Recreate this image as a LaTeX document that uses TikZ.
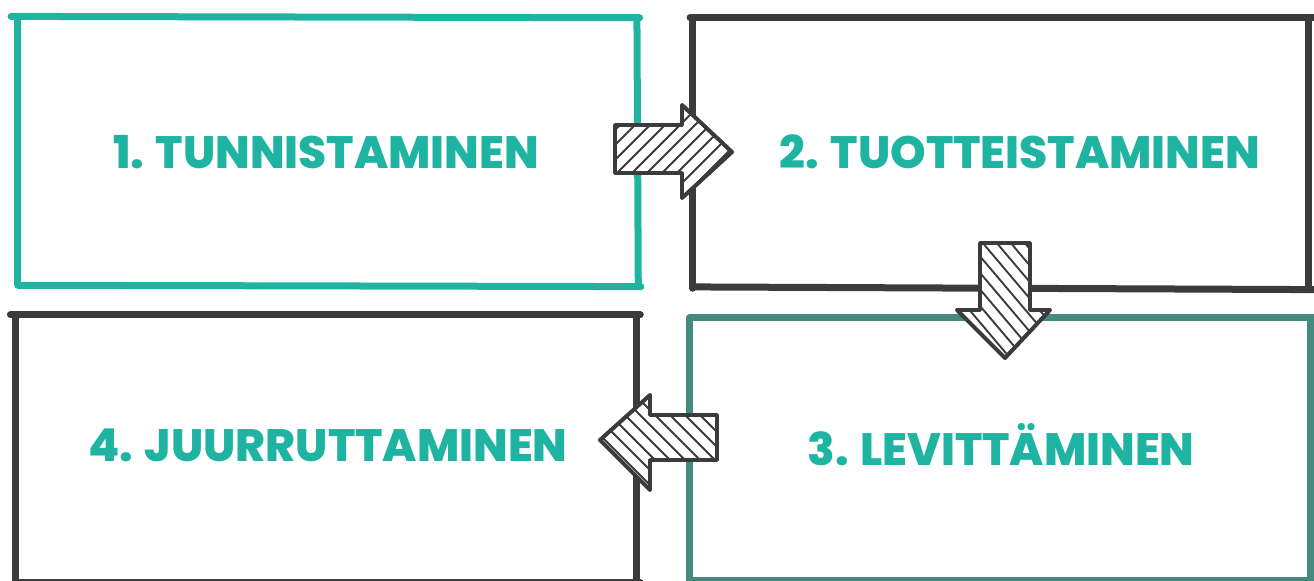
\documentclass[tikz,border=0pt]{standalone}
\usepackage{fontspec}
\IfFontExistsTF{Poppins ExtraBold}{\setmainfont{Poppins}[BoldFont={Poppins ExtraBold}]}{\setmainfont{Poppins}}
\definecolor{tealA}{HTML}{20B3A0}
\definecolor{tealB}{HTML}{448A7F}
\definecolor{darkline}{HTML}{3B3B3B}
\definecolor{txt}{HTML}{1FB4A1}
\begin{document}
\begin{tikzpicture}[x=0.75pt,y=-0.75pt,
  boxshape/.style={rectangle,draw=none,inner sep=0pt},
  side/.style={line width=5.25pt,line cap=round},
  steptext/.style={text=txt,font=\bfseries\fontsize{34}{34}\selectfont,inner sep=0pt},
  blockarrow/.style={fill=white,draw=darkline,line width=2.8pt,line join=round},
  hatch/.style={draw=darkline,line width=1.4pt}]
\useasboundingbox (0,0) rectangle (1314,581);

% boxes
\node[boxshape,minimum width=465pt,minimum height=200.25pt] (b1) at (328,151.5) {};
\node[boxshape,minimum width=461.25pt,minimum height=202.5pt] (b2) at (1000.5,153) {};
\node[boxshape,minimum width=465pt,minimum height=196.5pt] (b3) at (1000,449) {};
\node[boxshape,minimum width=465pt,minimum height=198.75pt] (b4) at (326,447.5) {};

% box 1 (teal)
\draw[side,tealA] ([xshift=-5pt,yshift=1pt]b1.north west) -- ([xshift=1pt]b1.north east);
\draw[side,tealA] (b1.north west) -- ([yshift=1pt]b1.south west);
\draw[side,tealA] ([xshift=-1pt]b1.north east) -- ([yshift=2pt]b1.south east);
\draw[side,tealA] (b1.south west) -- ([xshift=2pt,yshift=-1pt]b1.south east);

% box 2 (dark)
\draw[side,darkline] ([xshift=-2pt]b2.north west) -- ([xshift=4pt]b2.north east);
\draw[side,darkline] (b2.north west) -- (b2.south west);
\draw[side,darkline] (b2.north east) -- ([yshift=-1pt]b2.south east);
\draw[side,darkline] ([xshift=2pt,yshift=1pt]b2.south west) -- ([xshift=4pt,yshift=-1pt]b2.south east);

% box 3 (dark teal)
\draw[side,tealB] (b3.north west) -- ([xshift=3pt]b3.north east);
\draw[side,tealB] (b3.north west) -- ([yshift=-1pt]b3.south west);
\draw[side,tealB] (b3.north east) -- ([yshift=-3pt]b3.south east);
\draw[side,tealB] (b3.south west) -- ([xshift=3pt]b3.south east);

% box 4 (dark)
\draw[side,darkline] ([xshift=-4pt]b4.north west) -- ([xshift=3pt]b4.north east);
\draw[side,darkline] (b4.north west) -- ([yshift=-3pt]b4.south west);
\draw[side,darkline] (b4.north east) -- ([yshift=-2pt]b4.south east);
\draw[side,darkline] ([yshift=-2pt]b4.south west) -- ([xshift=3pt,yshift=-2pt]b4.south east);

% texts
\node[steptext] (t1) at (326,152) {1. TUNNISTAMINEN};
\node[steptext] (t2) at (1020,152) {2. TUOTTEISTAMINEN};
\node[steptext] (t3) at (1001,445) {3. LEVITTÄMINEN};
\node[steptext] (t4) at (328,445) {4. JUURRUTTAMINEN};

% arrow 1 -> 2
\path[blockarrow] (615,125) -- (682,125) -- (682,105) -- (732,152) -- (682,198) -- (682,173) -- (615,173) -- cycle;
\begin{scope}
\clip (615,125) -- (682,125) -- (682,105) -- (732,152) -- (682,198) -- (682,173) -- (615,173) -- cycle;
\foreach \k in {540,555,...,750} \draw[hatch] (\k,205) -- (\k+110,95);
\end{scope}
\draw[blockarrow,fill=none] (615,125) -- (682,125) -- (682,105) -- (732,152) -- (682,198) -- (682,173) -- (615,173) -- cycle;

% arrow 2 -> 3
\path[blockarrow] (980,243) -- (1030,243) -- (1030,310) -- (1050,310) -- (1005,358) -- (957,310) -- (980,310) -- cycle;
\begin{scope}
\clip (980,243) -- (1030,243) -- (1030,310) -- (1050,310) -- (1005,358) -- (957,310) -- (980,310) -- cycle;
\foreach \k in {850,864,...,1060} \draw[hatch] (\k,235) -- (\k+110,365);
\end{scope}
\draw[blockarrow,fill=none] (980,243) -- (1030,243) -- (1030,310) -- (1050,310) -- (1005,358) -- (957,310) -- (980,310) -- cycle;

% arrow 3 -> 4
\path[blockarrow] (717,415) -- (650,415) -- (650,395) -- (600,440) -- (650,490) -- (650,460) -- (717,460) -- cycle;
\begin{scope}
\clip (717,415) -- (650,415) -- (650,395) -- (600,440) -- (650,490) -- (650,460) -- (717,460) -- cycle;
\foreach \k in {490,505,...,730} \draw[hatch] (\k,385) -- (\k+115,500);
\end{scope}
\draw[blockarrow,fill=none] (717,415) -- (650,415) -- (650,395) -- (600,440) -- (650,490) -- (650,460) -- (717,460) -- cycle;
\end{tikzpicture}
\end{document}
